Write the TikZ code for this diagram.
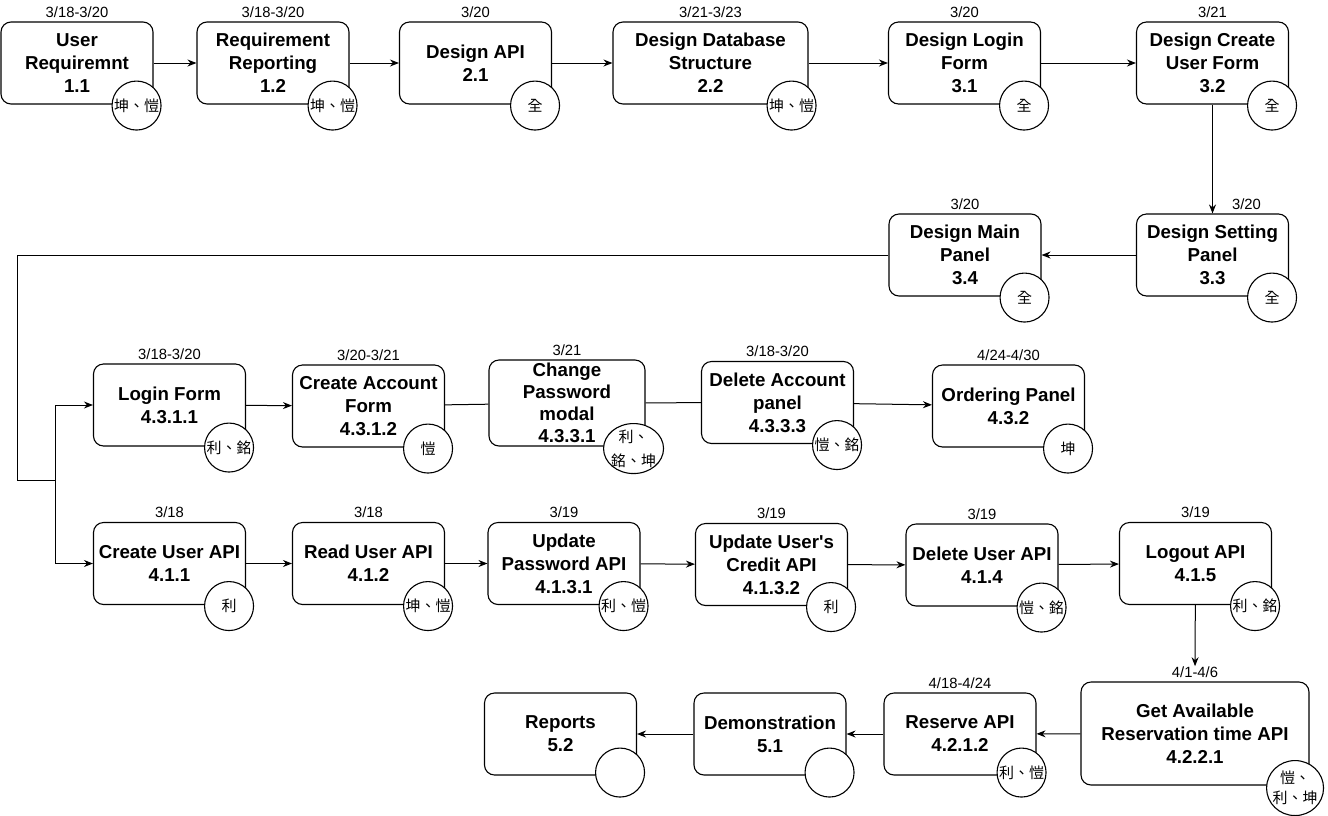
\documentclass[tikz,border=0pt]{standalone}
\usepackage{fontspec}
\setmainfont{Liberation Sans}
\newfontfamily\cjk{Noto Sans CJK TC}
\usetikzlibrary{arrows.meta,shapes.geometric}

\newcommand\titlefont{\fontsize{18.7}{23}\selectfont\bfseries}
\newcommand\datefont{\fontsize{14.8}{17}\selectfont}
\newcommand\whofont{\cjk\fontsize{15}{20}\selectfont}
\newcommand\apos{\XeTeXglyph\XeTeXcharglyph"27 }

\tikzset{
  task/.style={draw, line width=1.1pt, rounded corners=10pt, fill=white, align=center,
    inner sep=0pt, minimum width=152pt, minimum height=82pt, font=\titlefont},
  who/.style={draw, line width=1.1pt, circle, fill=white, minimum size=49pt,
    inner sep=0pt, font=\whofont},
  who2/.style={who, ellipse, align=center, inner sep=-6pt},
  every label/.style={font=\datefont, inner sep=0pt},
  arr/.style={draw, line width=1pt, -{Stealth[length=9pt,width=7pt]}},
  link/.style={draw, line width=1pt}
}

\begin{document}
\begin{tikzpicture}[x=1pt, y=-1pt, label distance=4pt]
\useasboundingbox (0,0) rectangle (1328,815);

% first row
\node[task, label={[name=t11]above:3/18-3/20}] (u11) at (77,63) {User\\Requiremnt\\1.1};
\node[who] (w11) at ([xshift=-17pt,yshift=-1pt]u11.south east) {坤、愷};
\node[task, label={[name=t12]above:3/18-3/20}] (u12) at (273,63) {Requirement\\Reporting\\1.2};
\node[who] (w12) at ([xshift=-17pt,yshift=-1pt]u12.south east) {坤、愷};
\node[task, label={[name=t21]above:3/20}] (u21) at (475.5,63) {Design API\\2.1};
\node[who] (w21) at ([xshift=-17pt,yshift=-1pt]u21.south east) {全};
\node[task, minimum width=195pt, label={[name=t22]above:3/21-3/23}] (u22) at (710.5,63) {Design Database\\Structure\\2.2};
\node[who] (w22) at ([xshift=-17pt,yshift=-1pt]u22.south east) {坤、愷};
\node[task, label={[name=t31]above:3/20}] (u31) at (964.5,63) {Design Login\\Form\\3.1};
\node[who] (w31) at ([xshift=-17pt,yshift=-1pt]u31.south east) {全};
\node[task, label={[name=t32]above:3/21}] (u32) at (1212.5,63) {Design Create\\User Form\\3.2};
\node[who] (w32) at ([xshift=-17pt,yshift=-1pt]u32.south east) {全};

% second row
\node[task, label={[name=t33, xshift=34pt]above:3/20}] (u33) at (1212.5,255) {Design Setting\\Panel\\3.3};
\node[who] (w33) at ([xshift=-17pt,yshift=-1pt]u33.south east) {全};
\node[task, label={[name=t34]above:3/20}] (u34) at (965,255) {Design Main\\Panel\\3.4};
\node[who] (w34) at ([xshift=-17pt,yshift=-1pt]u34.south east) {全};

% third row
\node[task, label={[name=t4311]above:3/18-3/20}] (l4311) at (169.5,405) {Login Form\\4.3.1.1};
\node[who] (w4311) at ([xshift=-17pt,yshift=-1pt]l4311.south east) {利、銘};
\node[task, label={[name=t4312]above:3/20-3/21}] (l4312) at (368.5,406) {Create Account\\Form\\4.3.1.2};
\node[who] (w4312) at ([xshift=-17pt,yshift=-1pt]l4312.south east) {愷};
\node[task, minimum width=156pt, minimum height=86pt, font=\fontsize{18.7}{22}\selectfont\bfseries, label={[name=t4331]above:3/21}] (l4331) at (567,403) {Change\\Password\\modal\\4.3.3.1};
\node[who2, minimum width=60pt, minimum height=50pt, font=\cjk\fontsize{15}{24}\selectfont] (w4331) at ([xshift=-12pt,yshift=-2pt]l4331.south east) {利、\\銘、坤};
\node[task, label={[name=t4333]above:3/18-3/20}] (l4333) at (777.5,402.5) {Delete Account\\panel\\4.3.3.3};
\node[who] (w4333) at ([xshift=-17pt,yshift=-1pt]l4333.south east) {愷、銘};
\node[task, label={[name=t432]above:4/24-4/30}] (l432) at (1008.5,406) {Ordering Panel\\4.3.2};
\node[who] (w432) at ([xshift=-17pt,yshift=-1pt]l432.south east) {坤};

% fourth row
\node[task, label={[name=t411]above:3/18}] (a411) at (169.5,563.5) {Create User API\\4.1.1};
\node[who] (w411) at ([xshift=-17pt,yshift=-1pt]a411.south east) {利};
\node[task, label={[name=t412]above:3/18}] (a412) at (368.5,563.5) {Read User API\\4.1.2};
\node[who] (w412) at ([xshift=-17pt,yshift=-1pt]a412.south east) {坤、愷};
\node[task, label={[name=t4131]above:3/19}] (a4131) at (564,563.5) {Update\\Password API\\4.1.3.1};
\node[who] (w4131) at ([xshift=-17pt,yshift=-1pt]a4131.south east) {利、愷};
\node[task, label={[name=t4132]above:3/19}] (a4132) at (771.5,564.5) {Update User\apos s\\Credit API\\4.1.3.2};
\node[who] (w4132) at ([xshift=-17pt,yshift=-1pt]a4132.south east) {利};
\node[task, label={[name=t414]above:3/19}] (a414) at (982,565) {Delete User API\\4.1.4};
\node[who] (w414) at ([xshift=-17pt,yshift=-1pt]a414.south east) {愷、銘};
\node[task, label={[name=t415]above:3/19}] (a415) at (1195.5,563.5) {Logout API\\4.1.5};
\node[who] (w415) at ([xshift=-17pt,yshift=-1pt]a415.south east) {利、銘};

% fifth row
\node[task, minimum width=228pt, minimum height=103pt, label={[name=t4221]above:4/1-4/6}] (g4221) at (1195,733.5) {Get Available\\Reservation time API\\4.2.2.1};
\node[who2, minimum width=57pt, minimum height=55pt] (w4221) at ([xshift=-14.5pt,yshift=-2.5pt]g4221.south east) {愷、\\利、坤};
\node[task, label={[name=t4212]above:4/18-4/24}] (r4212) at (960,734) {Reserve API\\4.2.1.2};
\node[who] (w4212) at ([xshift=-15pt,yshift=3pt]r4212.south east) {利、愷};
\node[task] (d51) at (770,734) {Demonstration\\5.1};
\node[who] (w51) at ([xshift=-17pt,yshift=3pt]d51.south east) {};
\node[task] (r52) at (560.5,734) {Reports\\5.2};
\node[who] (w52) at ([xshift=-17pt,yshift=3pt]r52.south east) {};

% connectors
\draw[arr] (u11) -- (u12);
\draw[arr] (u12) -- (u21);
\draw[arr] (u21) -- (u22);
\draw[arr] (u22) -- (u31);
\draw[arr] (u31) -- (u32);
\draw[arr] (u32) -- (u33);
\draw[arr] (u33) -- (u34);

\coordinate (k1) at (17,480);
\coordinate (k2) at (55,480);
\draw[arr] (u34.west) -| (k1) -- (k2) |- (l4311.west);
\draw[arr] (k2) |- (a411.west);

\draw[arr] (l4311) -- (l4312);
\draw[link] (l4312) -- (l4331);
\draw[link] (l4331) -- (l4333);
\draw[arr] (l4333) -- (l432);

\draw[arr] (a411) -- (a412);
\draw[arr] (a412) -- (a4131);
\draw[arr] (a4131) -- (a4132);
\draw[arr] (a4132) -- (a414);
\draw[arr] (a414) -- (a415);
\draw[arr] (a415) -- (t4221);

\draw[arr] (g4221) -- (r4212);
\draw[arr] (r4212) -- (d51);
\draw[arr] (d51) -- (r52);

\end{tikzpicture}
\end{document}
